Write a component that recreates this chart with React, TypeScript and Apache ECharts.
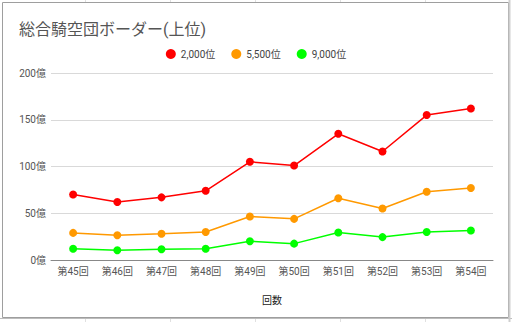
import React, { useEffect, useRef } from "react";
import * as echarts from "echarts";

const categories = ["第45回", "第46回", "第47回", "第48回", "第49回", "第50回", "第51回", "第52回", "第53回", "第54回"];
const seriesNames = ["2,000位", "5,500位", "9,000位"];
const rank2000 = [70, 62, 67, 74, 105, 101, 135, 116, 155, 162];
const rank5500 = [29, 26.5, 28, 30, 46.5, 44, 66, 55, 73, 77];
const rank9000 = [12, 10.5, 11.5, 12, 20, 17.5, 29.5, 24.5, 30, 31.5];
const colors = ["#ff0000", "#ff9900", "#00ff00"];
const yTicks = { min: 0, max: 200, interval: 50 };

export default function App() {
  const ref = useRef<HTMLDivElement>(null);
  useEffect(() => {
    if (!ref.current) return;
    const chart = echarts.init(ref.current, null, { renderer: "svg" });
    const font = "Roboto, 'Noto Sans CJK JP', sans-serif";
    const data = [rank2000, rank5500, rank9000];
    const sheetLines = [85, 170, 255, 340, 425].flatMap((x) => [
      {
        type: "line",
        shape: { x1: x + 0.5, y1: 0, x2: x + 0.5, y2: 2 },
        style: { stroke: "#e0e0e0", lineWidth: 1 },
        silent: true,
      },
      {
        type: "line",
        shape: { x1: x + 0.5, y1: 319, x2: x + 0.5, y2: 322 },
        style: { stroke: "#e0e0e0", lineWidth: 1 },
        silent: true,
      },
    ]);
    chart.setOption({
      animation: false,
      backgroundColor: "#ffffff",
      textStyle: { fontFamily: font },
      title: {
        text: "総合騎空団ボーダー(上位)",
        left: 14,
        top: 16,
        textStyle: { fontSize: 16, fontWeight: "normal", color: "#555555", fontFamily: font },
      },
      legend: {
        top: 44,
        left: "center",
        icon: "circle",
        itemWidth: 10,
        itemHeight: 10,
        itemGap: 16,
        textStyle: { fontSize: 10, color: "#444444", fontFamily: font },
        data: seriesNames,
      },
      grid: { left: 51, right: 19, top: 73, bottom: 62, containLabel: false },
      xAxis: {
        type: "category",
        data: categories,
        boundaryGap: true,
        name: "回数",
        nameLocation: "middle",
        nameGap: 35,
        nameTextStyle: { fontSize: 10, color: "#222222", fontFamily: font },
        axisLine: { lineStyle: { color: "#888888", width: 1 } },
        axisTick: { show: false },
        axisLabel: { fontSize: 10, color: "#555555", margin: 6, interval: 0, fontFamily: font },
      },
      yAxis: {
        type: "value",
        min: yTicks.min,
        max: yTicks.max,
        interval: yTicks.interval,
        axisLine: { show: false },
        axisTick: { show: false },
        axisLabel: { fontSize: 10, color: "#555555", margin: 5, formatter: "{value}億", fontFamily: font },
        splitLine: { lineStyle: { color: "#d9d9d9", width: 1 } },
      },
      series: seriesNames.map((name, i) => ({
        name,
        type: "line",
        data: data[i],
        symbol: "circle",
        symbolSize: 8,
        lineStyle: { color: colors[i], width: 1.5 },
        itemStyle: { color: colors[i] },
        emphasis: { disabled: true },
      })),
      graphic: [
        ...sheetLines,
        {
          type: "rect",
          shape: { x: 2.5, y: 2.5, width: 506, height: 315 },
          style: { fill: "none", stroke: "#9e9e9e", lineWidth: 1 },
          silent: true,
        },
        {
          type: "line",
          shape: { x1: 0, y1: 318.5, x2: 512, y2: 318.5 },
          style: { stroke: "#bdbdbd", lineWidth: 1 },
          silent: true,
        },
        {
          type: "line",
          shape: { x1: 509.5, y1: 0, x2: 509.5, y2: 322 },
          style: { stroke: "#cfcfcf", lineWidth: 2 },
          silent: true,
        },
      ],
    });
    return () => chart.dispose();
  }, []);
  return <div ref={ref} style={{ position: "fixed", left: 0, top: 0, width: 512, height: 322 }} />;
}
